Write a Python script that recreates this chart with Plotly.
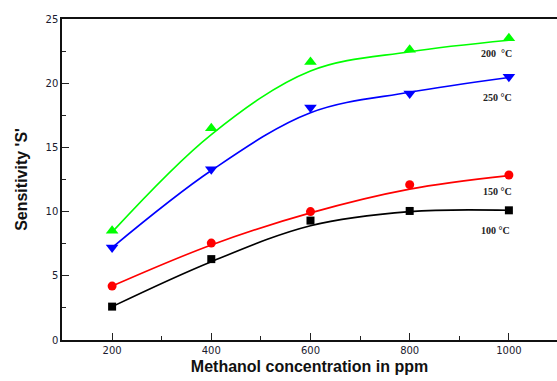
import plotly.graph_objects as go

# Data
conc = [200, 400, 600, 800, 1000]

s_100 = [2.6, 6.3, 9.3, 10.05, 10.1]
s_150 = [4.2, 7.55, 10.0, 12.1, 12.85]
s_200 = [8.5, 16.5, 21.65, 22.6, 23.5]
s_250 = [7.2, 13.3, 18.1, 19.2, 20.5]

# Fitted (smooth) curves at the same concentrations
fit_100 = [2.6, 6.1, 8.9, 10.0, 10.1]
fit_150 = [4.2, 7.4, 9.9, 11.75, 12.8]
fit_200 = [8.4, 16.0, 20.95, 22.45, 23.35]
fit_250 = [7.2, 13.2, 17.7, 19.3, 20.45]

labels = ["100 °C", "150 °C", "200  °C", "250 °C"]
label_x = [972, 978, 976, 978]
label_y = [8.55, 11.6, 22.3, 18.85]

series = [
    (s_100, fit_100, "#000000", "square", 8),
    (s_150, fit_150, "#ff0000", "circle", 9),
    (s_200, fit_200, "#00ff00", "triangle-up", 11),
    (s_250, fit_250, "#0000ff", "triangle-down", 11),
]

fig = go.Figure()
for vals, fit, col, sym, sz in series:
    fig.add_trace(go.Scatter(
        x=conc, y=fit, mode="lines",
        line=dict(color=col, width=1.6, shape="spline", smoothing=1.0),
        showlegend=False, hoverinfo="skip"))
    fig.add_trace(go.Scatter(
        x=conc, y=vals, mode="markers",
        marker=dict(color=col, symbol=sym, size=sz, line=dict(width=0)),
        showlegend=False))

for txt, lx, ly in zip(labels, label_x, label_y):
    fig.add_annotation(x=lx, y=ly, xref="x", yref="y", text="<b>" + txt + "</b>",
                       showarrow=False,
                       font=dict(family="Liberation Serif", size=10, color="#222222"))

fig.update_layout(
    width=557, height=381, autosize=False,
    margin=dict(l=62, r=0, t=19, b=41),
    paper_bgcolor="white", plot_bgcolor="white",
    font=dict(family="Liberation Sans", color="#1a1a2e"),
)

fig.update_xaxes(
    range=[99, 1097], tickvals=[200, 400, 600, 800, 1000],
    ticks="inside", ticklen=7, tickwidth=1.2, tickcolor="#222",
    minor=dict(tickvals=[300, 500, 700, 900], ticks="inside", ticklen=4, tickwidth=1.2, tickcolor="#222"),
    showline=True, linecolor="#111", linewidth=1.5, mirror=True,
    showgrid=False, zeroline=False,
    tickfont=dict(family="DejaVu Sans", size=10, color="#1a1a2e"),
    title=dict(text="<b>Methanol concentration in ppm</b>",
               font=dict(family="Liberation Sans", size=16, color="#111"), standoff=6),
)
fig.update_yaxes(
    range=[0, 25], tickvals=[0, 5, 10, 15, 20, 25],
    ticks="inside", ticklen=7, tickwidth=1.2, tickcolor="#222",
    minor=dict(tickvals=[2.5, 7.5, 12.5, 17.5, 22.5], ticks="inside", ticklen=4, tickwidth=1.2, tickcolor="#222"),
    showline=True, linecolor="#111", linewidth=1.5, mirror=False,
    showgrid=False, zeroline=False,
    tickfont=dict(family="DejaVu Sans", size=10, color="#1a1a2e"),
    title=dict(text="<b>Sensitivity 'S'</b>",
               font=dict(family="Liberation Sans", size=16, color="#111"), standoff=14),
)

fig.write_html("out.html")
